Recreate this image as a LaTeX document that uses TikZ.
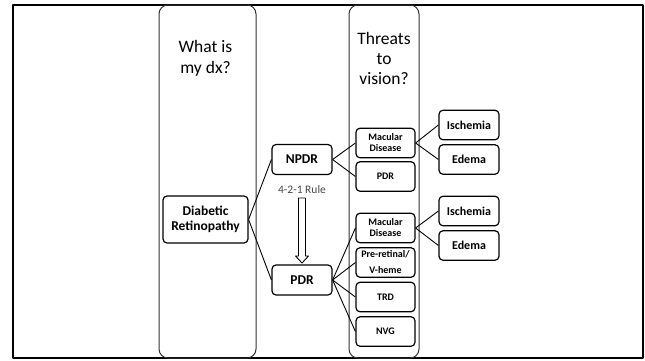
\documentclass[tikz,border=0pt]{standalone}
\usepackage{fontspec}
\setmainfont{Carlito}
\definecolor{ColGray}{RGB}{50,50,50}
\definecolor{RuleGray}{RGB}{70,70,70}
\newcommand{\fsz}[2]{\fontsize{#1}{#2}\selectfont}

\begin{document}
\begin{tikzpicture}[x=1bp, y=-1bp, line join=round,
    column/.style={draw=ColGray, line width=1bp, rounded corners=9bp},
    rootbox/.style={draw, line width=1.2bp, rounded corners=4bp, align=center, inner sep=0pt,
        minimum width=85bp, minimum height=47bp, font=\bfseries\fsz{13.5bp}{15bp}},
    stagebox/.style={draw, line width=1.2bp, rounded corners=4bp, align=center, inner sep=0pt,
        minimum width=60bp, minimum height=30bp, font=\bfseries\fsz{13.5bp}{15bp}},
    threatbox/.style={draw, line width=1.2bp, rounded corners=4bp, align=center, inner sep=0pt,
        minimum width=59bp, minimum height=29.5bp, font=\bfseries\fsz{10bp}{11bp}},
    sidebox/.style={draw, line width=1.2bp, rounded corners=4bp, align=center, inner sep=0pt,
        minimum width=60bp, minimum height=29.5bp, font=\bfseries\fsz{12bp}{13bp}},
    link/.style={line width=0.9bp}]
        \useasboundingbox (0,0) rectangle (645,360);

        % Frame
        \draw[line width=2bp] (13,4.5) rectangle (643,358);

        % Columns
        \draw[column] (159,5) rectangle (256,358);
        \draw[column] (349,5) rectangle (419,358);
        \node[align=center, font=\fsz{17.5bp}{21bp}] (dxq) at (205.5,58) {What is\\my dx?};
        \node[align=center, font=\fsz{17.5bp}{20bp}] (threatq) at (384,58) {Threats\\to\\vision?};

        % Diagnosis
        \node[rootbox] (dr) at (205.5,219.5) {Diabetic\\Retinopathy};
        \node[stagebox] (npdr) at (302,159.5) {NPDR};
        \node[stagebox] (pdr) at (302,280) {PDR};

        % Rule arrow
        \node[font=\fsz{11.5bp}{12bp}, text=RuleGray] (rule) at (302,189.5) {4-2-1 Rule};
        \draw[line width=0.9bp, fill=white] (298.5,198) -- (305.5,198) -- (305.5,256) -- (308.5,256)
            -- (302,263) -- (295.5,256) -- (298.5,256) -- cycle;

        % Threats of NPDR
        \node[threatbox] (mdA) at (385.5,143) {Macular\\Disease};
        \node[threatbox] (pdrA) at (385.5,176.5) {PDR};

        % Threats of PDR
        \node[threatbox] (mdB) at (385.5,228) {Macular\\Disease};
        \node[threatbox, font=\bfseries\fsz{10bp}{16bp}] (vheme) at (385.5,262.5) {Pre-retinal/\\V-heme};
        \node[threatbox] (trd) at (385.5,297) {TRD};
        \node[threatbox] (nvg) at (385.5,331.5) {NVG};

        % Macular disease
        \node[sidebox] (iscA) at (469,125) {Ischemia};
        \node[sidebox] (edeA) at (469,159.5) {Edema};
        \node[sidebox] (iscB) at (469,211) {Ischemia};
        \node[sidebox] (edeB) at (469,245.5) {Edema};

        % Links
        \draw[link] (dr.east) -- (npdr.west);
        \draw[link] (dr.east) -- (pdr.west);
        \draw[link] (npdr.east) -- (mdA.west);
        \draw[link] (npdr.east) -- (pdrA.west);
        \draw[link] (pdr.east) -- (mdB.west);
        \draw[link] (pdr.east) -- (vheme.west);
        \draw[link] (pdr.east) -- (trd.west);
        \draw[link] (pdr.east) -- (nvg.west);
        \draw[link] (mdA.east) -- (iscA.west);
        \draw[link] (mdA.east) -- (edeA.west);
        \draw[link] (mdB.east) -- (iscB.west);
        \draw[link] (mdB.east) -- (edeB.west);
    \end{tikzpicture}
\end{document}
